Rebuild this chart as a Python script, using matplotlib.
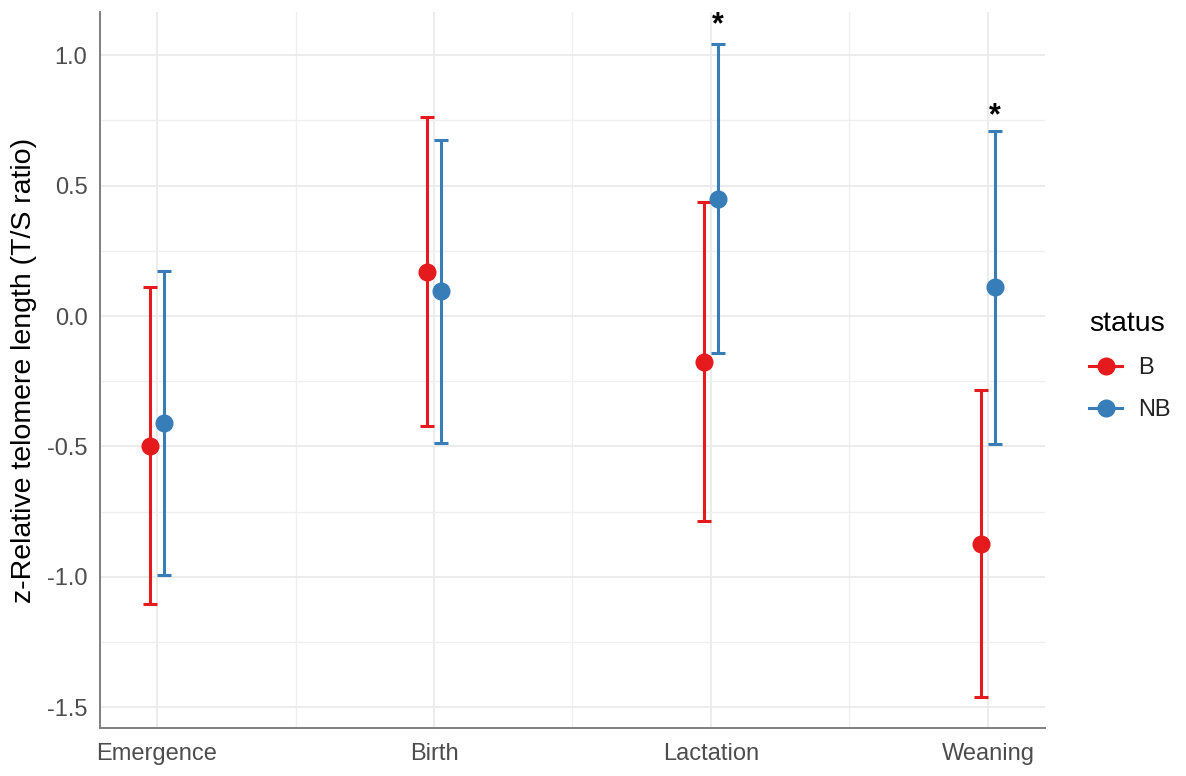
"""Telomere length by reproductive stage and breeding status (B / NB)."""

import matplotlib

matplotlib.use("Agg")
import matplotlib.pyplot as plt
import numpy as np
from matplotlib.lines import Line2D
from matplotlib.ticker import FixedLocator

# ---------------------------------------------------------------------------
# Data
# ---------------------------------------------------------------------------

stages = ["Emergence", "Birth", "Lactation", "Weaning"]
status_levels = ["B", "NB"]

b_mean = [-0.498, 0.169, -0.176, -0.874]
b_lower = [-1.104, -0.422, -0.787, -1.460]
b_upper = [0.112, 0.762, 0.438, -0.284]

nb_mean = [-0.411, 0.095, 0.449, 0.112]
nb_lower = [-0.994, -0.486, -0.143, -0.491]
nb_upper = [0.174, 0.675, 1.043, 0.711]

# significance marks (placed over the NB bars)
star_stage = ["Lactation", "Weaning"]
star_y = [1.150, 0.800]

y_ticks = [-1.5, -1.0, -0.5, 0.0, 0.5, 1.0]
y_ticklabels = ["-1.5", "-1.0", "-0.5", "0.0", "0.5", "1.0"]

# ---------------------------------------------------------------------------
# Style
# ---------------------------------------------------------------------------

COLORS = {"B": "#E41A1C", "NB": "#377EB8"}
GRID_MAJOR = "#ebebeb"
GRID_MINOR = "#efefef"
SPINE = "#7f7f7f"
TICK_TEXT = "#4d4d4d"

plt.rcParams["font.family"] = ["Liberation Sans", "DejaVu Sans"]

DODGE = 0.026
TICK_FS = 17
TITLE_FS = 20.5

fig = plt.figure(figsize=(11.86, 7.76), dpi=100)
ax = fig.add_axes([100 / 1186, 48 / 776, 945 / 1186, 716 / 776])

x = np.arange(1, len(stages) + 1)
series = {
    "B": (np.array(b_mean), np.array(b_lower), np.array(b_upper), -DODGE),
    "NB": (np.array(nb_mean), np.array(nb_lower), np.array(nb_upper), DODGE),
}

for name in status_levels:
    mean, lo, hi, shift = series[name]
    ax.errorbar(
        x + shift, mean,
        yerr=[mean - lo, hi - mean],
        fmt="o", color=COLORS[name],
        markersize=12, elinewidth=2.2, capsize=5, capthick=2.2,
        zorder=3,
    )

# asterisks above NB intervals
for stage, ys in zip(star_stage, star_y):
    xi = stages.index(stage) + 1 + DODGE
    ax.annotate(
        "*", (xi, ys), xytext=(0, -0.55 * 22), textcoords="offset points",
        ha="center", va="baseline", fontsize=22, fontweight="bold",
        color="black", zorder=4,
    )

# axes limits / ticks
ax.set_xlim(0.794, 4.206)
ax.set_ylim(-1.580, 1.166)
ax.set_xticks(x)
ax.set_xticklabels(stages)
ax.set_yticks(y_ticks)
ax.set_yticklabels(y_ticklabels)
ax.xaxis.set_minor_locator(FixedLocator(x[:-1] + 0.5))
ax.yaxis.set_minor_locator(FixedLocator(np.arange(-1.25, 1.0, 0.5)))

ax.tick_params(axis="both", which="both", length=0, labelsize=TICK_FS,
               labelcolor=TICK_TEXT)
ax.tick_params(axis="y", pad=9)
ax.tick_params(axis="x", pad=11)

ax.grid(which="major", color=GRID_MAJOR, linewidth=1.3, zorder=0)
ax.grid(which="minor", color=GRID_MINOR, linewidth=0.9, zorder=0)
ax.set_axisbelow(True)

for side in ("top", "right"):
    ax.spines[side].set_visible(False)
for side in ("left", "bottom"):
    ax.spines[side].set_color(SPINE)
    ax.spines[side].set_linewidth(1.4)

ax.set_ylabel("z-Relative telomere length (T/S ratio)", fontsize=TITLE_FS,
              color="black", labelpad=7)

# legend
handles = [
    Line2D([], [], color=COLORS[n], marker="o", markersize=12, linewidth=2.2)
    for n in status_levels
]
leg = fig.legend(
    handles, status_levels, title="status",
    loc="upper left", bbox_to_anchor=(1089 / 1186, 1 - 311 / 776),
    frameon=False, borderpad=0, borderaxespad=0,
    fontsize=TICK_FS, title_fontsize=TITLE_FS,
    handlelength=1.4, handletextpad=0.7, labelspacing=0.85,
    alignment="left",
)
for t in leg.get_texts():
    t.set_color("#222222")

fig.savefig("out.png", dpi=100)
